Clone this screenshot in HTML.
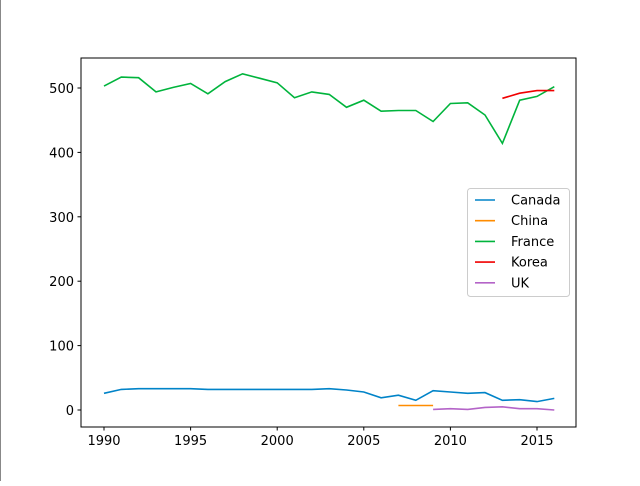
<!DOCTYPE html>
<html><head><meta charset="utf-8"><style>
body{margin:0;background:#fff;}
text{font-family:"DejaVu Sans","Liberation Sans",sans-serif;font-size:13px;fill:#000;}
</style></head><body>
<svg id="chart" width="640" height="481">
<rect x="0" y="0" width="640" height="481" fill="#fff"/>
<line x1="0.5" y1="0" x2="0.5" y2="481" stroke="#888" stroke-width="1"/>
<g id="lines"></g>
<rect x="81" y="58" width="495" height="369" fill="none" stroke="#000" stroke-width="1"/>
<g id="axes"></g>
<g id="legend"></g>
</svg>
<script>
const years = [1990,1991,1992,1993,1994,1995,1996,1997,1998,1999,2000,2001,2002,2003,2004,2005,2006,2007,2008,2009,2010,2011,2012,2013,2014,2015,2016];
const canada = [26,32,33,33,33,33,32,32,32,32,32,32,32,33,31,28,19,23,15,30,28,26,27,15,16,13,18];
const chinaYears = [2007,2008,2009];
const china = [7,7,7];
const france = [503,517,516,494,501,507,491,510,522,515,508,485,494,490,470,481,464,465,465,448,476,477,458,414,481,487,502];
const koreaYears = [2013,2014,2015,2016];
const korea = [484,492,496,496];
const ukYears = [2009,2010,2011,2012,2013,2014,2015,2016];
const uk = [1,2,1,4,5,2,2,0];
const xTicks = [1990,1995,2000,2005,2010,2015];
const yTicks = [0,100,200,300,400,500];
const seriesNames = ["Canada","China","France","Korea","UK"];
const colors = ["#0083c8","#ff8c00","#00b43c","#f00000","#b464c8"];

const NS="http://www.w3.org/2000/svg";
function xs(v){return 104+(v-1990)*17.32;}
function ys(v){return 410-v*0.644;}
function mk(tag,attrs,parent){const e=document.createElementNS(NS,tag);for(const k in attrs)e.setAttribute(k,attrs[k]);parent.appendChild(e);return e;}
const lines=document.getElementById('lines'),axes=document.getElementById('axes'),legend=document.getElementById('legend');
const data=[[years,canada],[chinaYears,china],[years,france],[koreaYears,korea],[ukYears,uk]];
data.forEach((d,i)=>{
  const pts=d[0].map((y,j)=>xs(y).toFixed(1)+','+ys(d[1][j]).toFixed(1)).join(' ');
  const p=mk('polyline',{points:pts,fill:'none',stroke:colors[i],'stroke-width':1.6},lines);
  
  
});
xTicks.forEach(t=>{
  const x=xs(t);
  mk('line',{x1:x,x2:x,y1:427,y2:430.5,stroke:'#000'},axes);
  const tx=mk('text',{x:x,y:445,'text-anchor':'middle'},axes);tx.textContent=t;
  
  
});
yTicks.forEach(t=>{
  const y=ys(t);
  mk('line',{x1:77.5,x2:81,y1:y,y2:y,stroke:'#000'},axes);
  const tx=mk('text',{x:74,y:y+5,'text-anchor':'end'},axes);tx.textContent=t;
  
  
});
const box=mk('rect',{x:467.5,y:188.5,width:102,height:108,rx:3,fill:'#fff','fill-opacity':0.8,stroke:'#ccc'},legend);


seriesNames.forEach((n,i)=>{
  const y=200+i*20.7;
  mk('line',{x1:475,x2:495,y1:y,y2:y,stroke:colors[i],'stroke-width':1.6},legend);
  const tx=mk('text',{x:511,y:y+4.5},legend);tx.textContent=n;
  
  
});
</script>
</body></html>
